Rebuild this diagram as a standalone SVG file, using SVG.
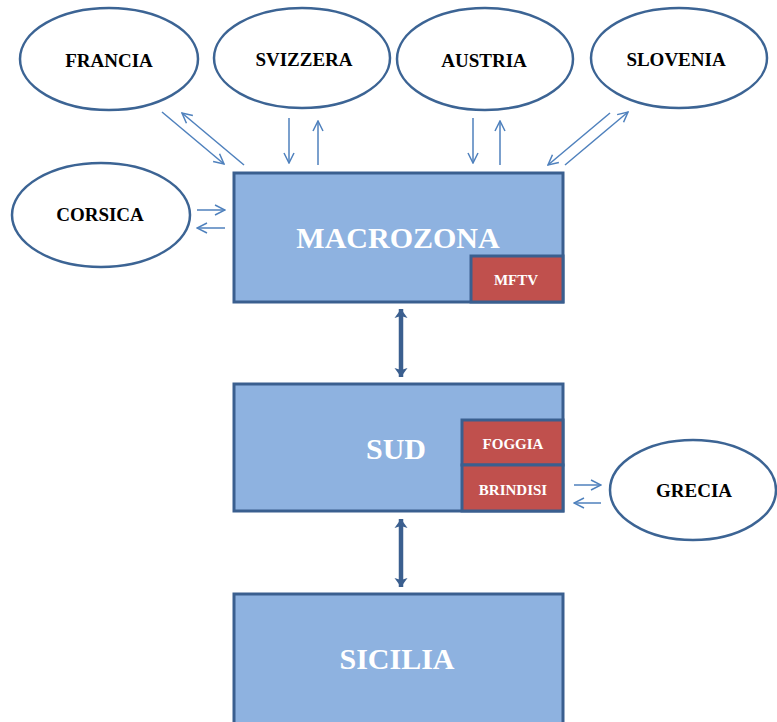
<svg xmlns="http://www.w3.org/2000/svg" width="777" height="722" viewBox="0 0 777 722">
  <defs>
    <marker id="open" viewBox="0 0 12 12" refX="11" refY="6" markerWidth="12" markerHeight="12" markerUnits="userSpaceOnUse" orient="auto">
      <path d="M1,1 L11,6 L1,11" fill="none" stroke="#4f81bd" stroke-width="1.5"/>
    </marker>
    <marker id="solid" viewBox="0 0 10 14" refX="9" refY="7" markerWidth="10" markerHeight="14" markerUnits="userSpaceOnUse" orient="auto-start-reverse">
      <path d="M0,0.5 L9,7 L0,13.5 L2,7 Z" fill="#3b5f8f"/>
    </marker>
    <style>
      .oval { fill: #ffffff; stroke: #3c6494; stroke-width: 2.5; }
      .box { fill: #8eb2e0; stroke: #3a5f8f; stroke-width: 3; }
      .sub { fill: #c0504d; stroke: #3a5f8f; stroke-width: 3; }
      .olbl { font-family: "Liberation Serif", "Times New Roman", serif; font-weight: bold; font-size: 19px; fill: #000000; text-anchor: middle; }
      .blbl { font-family: "Liberation Serif", "Times New Roman", serif; font-weight: bold; font-size: 30px; fill: #ffffff; text-anchor: middle; }
      .slbl { font-family: "Liberation Serif", "Times New Roman", serif; font-weight: bold; font-size: 15px; fill: #ffffff; text-anchor: middle; }
      .thin { stroke: #4f81bd; stroke-width: 1.5; fill: none; marker-end: url(#open); }
      .thick { stroke: #3b5f8f; stroke-width: 4.5; fill: none; marker-start: url(#solid); marker-end: url(#solid); }
    </style>
  </defs>

  <!-- neighbouring countries -->
  <g id="francia">
    <ellipse class="oval" cx="109" cy="59" rx="89" ry="51"/>
    <text class="olbl" x="109" y="67">FRANCIA</text>
  </g>
  <g id="svizzera">
    <ellipse class="oval" cx="302" cy="58" rx="88" ry="50"/>
    <text class="olbl" x="304" y="66">SVIZZERA</text>
  </g>
  <g id="austria">
    <ellipse class="oval" cx="485" cy="59" rx="88" ry="51"/>
    <text class="olbl" x="484" y="67">AUSTRIA</text>
  </g>
  <g id="slovenia">
    <ellipse class="oval" cx="679" cy="58" rx="88" ry="50"/>
    <text class="olbl" x="676" y="66">SLOVENIA</text>
  </g>
  <g id="corsica">
    <ellipse class="oval" cx="101" cy="215" rx="89" ry="52"/>
    <text class="olbl" x="100" y="221">CORSICA</text>
  </g>
  <g id="grecia">
    <ellipse class="oval" cx="693" cy="490" rx="83" ry="50"/>
    <text class="olbl" x="694" y="497">GRECIA</text>
  </g>

  <!-- zones -->
  <g id="macrozona">
    <rect class="box" x="234" y="173" width="329" height="129"/>
    <text class="blbl" x="398" y="248">MACROZONA</text>
  </g>
  <g id="mftv">
    <rect class="sub" x="471" y="256" width="92" height="46"/>
    <text class="slbl" x="516" y="285" font-size="14">MFTV</text>
  </g>
  <g id="sud">
    <rect class="box" x="234" y="384" width="329" height="127"/>
    <text class="blbl" x="396" y="459">SUD</text>
  </g>
  <g id="foggia">
    <rect class="sub" x="462" y="420" width="101" height="45"/>
    <text class="slbl" x="513" y="449">FOGGIA</text>
  </g>
  <g id="brindisi">
    <rect class="sub" x="462" y="465" width="101" height="46"/>
    <text class="slbl" x="513" y="495">BRINDISI</text>
  </g>
  <g id="sicilia">
    <rect class="box" x="234" y="594" width="329" height="132"/>
    <text class="blbl" x="397" y="669">SICILIA</text>
  </g>

  <!-- connectors -->
  <g id="connectors">
    <line class="thin" x1="162" y1="112" x2="224" y2="164"/>
    <line class="thin" x1="244" y1="165" x2="182" y2="113"/>
    <line class="thin" x1="289" y1="118" x2="289" y2="163"/>
    <line class="thin" x1="318" y1="165" x2="318" y2="121"/>
    <line class="thin" x1="473" y1="118" x2="473" y2="163"/>
    <line class="thin" x1="500" y1="165" x2="500" y2="121"/>
    <line class="thin" x1="565" y1="165" x2="628" y2="112"/>
    <line class="thin" x1="610" y1="113" x2="548" y2="165"/>
    <line class="thin" x1="197" y1="210" x2="225" y2="210"/>
    <line class="thin" x1="225" y1="228" x2="197" y2="228"/>
    <line class="thin" x1="574" y1="485" x2="601" y2="485"/>
    <line class="thin" x1="601" y1="503" x2="574" y2="503"/>
    <line class="thick" x1="401" y1="309" x2="401" y2="377"/>
    <line class="thick" x1="401" y1="519" x2="401" y2="587"/>
  </g>
</svg>
